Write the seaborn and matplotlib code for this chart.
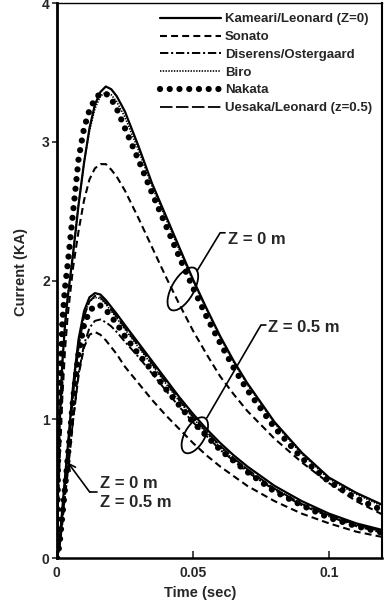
import numpy as np
import pandas as pd
import matplotlib
matplotlib.use("Agg")
import matplotlib.pyplot as plt
import seaborn as sns
from matplotlib.patches import Ellipse
from matplotlib.transforms import ScaledTranslation

# %% data (time in ms, current in kA)
t_ms = [0, 0.5, 1, 2, 3, 4, 6, 8, 10, 12, 14, 16, 18, 20, 22, 25,
        30, 35, 40, 45, 50, 55, 60, 65, 70, 80, 90, 100, 110, 120]

# Z = 0 m
kameari_z0 = [0, 0.55, 0.95, 1.40, 1.68, 1.88, 2.20, 2.55, 2.85, 3.10, 3.27, 3.36, 3.40, 3.38, 3.33, 3.22,
              2.97, 2.70, 2.47, 2.24, 2.01, 1.80, 1.60, 1.42, 1.26, 0.98, 0.76, 0.58, 0.47, 0.38]
sonato_z0 = [0, 0.40, 0.70, 1.15, 1.50, 1.75, 2.10, 2.36, 2.58, 2.73, 2.81, 2.84, 2.84, 2.80, 2.75, 2.65,
             2.45, 2.24, 2.03, 1.83, 1.64, 1.47, 1.31, 1.18, 1.06, 0.86, 0.69, 0.54, 0.41, 0.31]
biro_z0 = [0, 0.55, 0.95, 1.40, 1.68, 1.88, 2.20, 2.55, 2.85, 3.08, 3.24, 3.33, 3.36, 3.34, 3.29, 3.18,
           2.94, 2.68, 2.45, 2.22, 2.00, 1.79, 1.59, 1.41, 1.25, 0.97, 0.75, 0.57, 0.46, 0.37]
nakata_z0 = [0, 0.75, 1.05, 1.70, 1.95, 2.12, 2.50, 2.88, 3.10, 3.23, 3.31, 3.35, 3.35, 3.31, 3.24, 3.10,
             2.87, 2.63, 2.40, 2.17, 1.95, 1.74, 1.55, 1.37, 1.21, 0.94, 0.72, 0.55, 0.43, 0.34]

# Z = 0.5 m
kameari_z05 = [0, 0.05, 0.12, 0.35, 0.58, 0.80, 1.25, 1.58, 1.78, 1.88, 1.91, 1.90, 1.86, 1.81, 1.76, 1.68,
               1.55, 1.42, 1.29, 1.16, 1.04, 0.93, 0.83, 0.74, 0.66, 0.52, 0.41, 0.32, 0.25, 0.20]
sonato_z05 = [0, 0.04, 0.08, 0.25, 0.44, 0.62, 1.00, 1.32, 1.52, 1.61, 1.63, 1.61, 1.57, 1.52, 1.47, 1.38,
              1.26, 1.14, 1.03, 0.93, 0.83, 0.74, 0.66, 0.59, 0.52, 0.41, 0.32, 0.25, 0.19, 0.15]
diserens_z05 = [0, 0.04, 0.09, 0.27, 0.45, 0.64, 1.00, 1.33, 1.54, 1.66, 1.71, 1.72, 1.70, 1.67, 1.63, 1.56,
                1.45, 1.33, 1.21, 1.09, 0.98, 0.88, 0.78, 0.70, 0.62, 0.49, 0.38, 0.30, 0.23, 0.18]
biro_z05 = [0, 0.05, 0.12, 0.34, 0.56, 0.78, 1.22, 1.55, 1.75, 1.85, 1.88, 1.87, 1.83, 1.78, 1.73, 1.65,
            1.52, 1.39, 1.26, 1.13, 1.01, 0.90, 0.80, 0.71, 0.63, 0.50, 0.39, 0.30, 0.24, 0.19]
nakata_z05 = [0, 0.04, 0.10, 0.30, 0.50, 0.72, 1.15, 1.48, 1.68, 1.78, 1.82, 1.82, 1.79, 1.74, 1.69, 1.60,
              1.47, 1.35, 1.22, 1.10, 0.98, 0.88, 0.78, 0.70, 0.62, 0.48, 0.38, 0.29, 0.23, 0.18]
uesaka_z05 = [0, 0.04, 0.10, 0.30, 0.52, 0.74, 1.18, 1.52, 1.74, 1.85, 1.89, 1.88, 1.84, 1.79, 1.74, 1.66,
              1.53, 1.40, 1.27, 1.14, 1.02, 0.91, 0.81, 0.72, 0.64, 0.50, 0.39, 0.31, 0.24, 0.19]

t_sec = np.array(t_ms) / 1000.0

# %% style
sns.set_theme(style="ticks")
plt.rcParams["font.family"] = ["Liberation Sans", "DejaVu Sans"]
plt.rcParams["font.weight"] = "bold"
plt.rcParams["lines.scale_dashes"] = False

fig = plt.figure(figsize=(3.84, 6.03), dpi=100)
ax = fig.add_axes([0.148, 0.0746, 0.847, 0.920])

styles = {
    "Kameari/Leonard (Z=0)": dict(linestyle="-", linewidth=1.6),
    "Sonato": dict(linestyle=(0, (5, 3)), linewidth=1.5),
    "Diserens/Ostergaard": dict(linestyle=(0, (6, 2, 1.5, 2)), linewidth=1.4),
    "Biro": dict(linestyle=(0, (1, 1)), linewidth=1.2),
    "Nakata": dict(linestyle=(0, (0.01, 7)), linewidth=4.5, dash_capstyle="round"),
    "Uesaka/Leonard (z=0.5)": dict(linestyle=(0, (9, 2.5)), linewidth=1.3),
}

series = [
    ("Kameari/Leonard (Z=0)", kameari_z0, True),
    ("Kameari/Leonard (Z=0)", kameari_z05, False),
    ("Sonato", sonato_z0, True),
    ("Sonato", sonato_z05, False),
    ("Diserens/Ostergaard", diserens_z05, True),
    ("Biro", biro_z0, True),
    ("Biro", biro_z05, False),
    ("Nakata", nakata_z0, True),
    ("Nakata", nakata_z05, False),
    ("Uesaka/Leonard (z=0.5)", uesaka_z05, True),
]

for name, vals, show in series:
    sns.lineplot(x=t_sec, y=vals, ax=ax, color="black",
                 label=name if show else None, **styles[name])

# %% axes
ax.set_xlim(0, 0.1195)
ax.set_ylim(0, 4)
ax.set_xticks([0, 0.05, 0.1])
ax.set_xticklabels(["0", "0.05", "0.1"])
ax.set_yticks([0, 1, 2, 3, 4])
ax.tick_params(axis="x", direction="in", length=5, width=1.2, pad=6, labelsize=10)
ax.tick_params(axis="y", direction="out", length=3.6, width=1.2, pad=1.5, labelsize=10)
for lab in ax.get_xticklabels() + ax.get_yticklabels():
    lab.set_fontweight("bold")
for side, lw in [("left", 2.0), ("bottom", 1.8), ("right", 1.5), ("top", 1.0)]:
    ax.spines[side].set_linewidth(lw)
    ax.spines[side].set_color("black")

ax.set_xlabel("Time (sec)", fontsize=10.5, fontweight="bold")
ax.set_ylabel("Current (KA)", fontsize=10.5, fontweight="bold")
ax.xaxis.set_label_coords(0.44, -0.05)
ax.yaxis.set_label_coords(-0.09, 0.515)

leg = ax.legend(loc="upper right", bbox_to_anchor=(1.0, 1.0), frameon=False,
                handlelength=4.6, handletextpad=0.3, labelspacing=0.42,
                borderaxespad=0.45, borderpad=0.3, prop=dict(size=9.5, weight="bold"))

# %% annotations: ellipses and leaders
def ring(t, i, w, h, ang):
    tr = fig.dpi_scale_trans + ScaledTranslation(t, i, ax.transData)
    ax.add_patch(Ellipse((0, 0), w, h, angle=ang, fill=False, lw=1.3,
                         edgecolor="black", transform=tr))

ring(0.0463, 1.94, 0.48, 0.22, 60)
ring(0.0507, 0.885, 0.40, 0.20, 60)

ax.plot([0.0515, 0.0600, 0.0618], [2.07, 2.345, 2.345], color="black", lw=1.2)
ax.text(0.0629, 2.30, "Z = 0 m", fontsize=12, fontweight="bold", va="center")

ax.plot([0.0551, 0.0750, 0.0768], [1.01, 1.68, 1.68], color="black", lw=1.2)
ax.text(0.0776, 1.66, "Z = 0.5 m", fontsize=12, fontweight="bold", va="center")

ax.plot([0.0147, 0.0121], [0.475, 0.475], color="black", lw=1.2)
ax.annotate("", xy=(0.004, 0.69), xytext=(0.0121, 0.475),
            arrowprops=dict(arrowstyle="->", color="black", lw=1.2,
                            shrinkA=0, shrinkB=0))
ax.text(0.0158, 0.54, "Z = 0 m", fontsize=12, fontweight="bold", va="center")
ax.text(0.0158, 0.40, "Z = 0.5 m", fontsize=12, fontweight="bold", va="center")

fig.savefig("out.png", dpi=100, facecolor="white")
